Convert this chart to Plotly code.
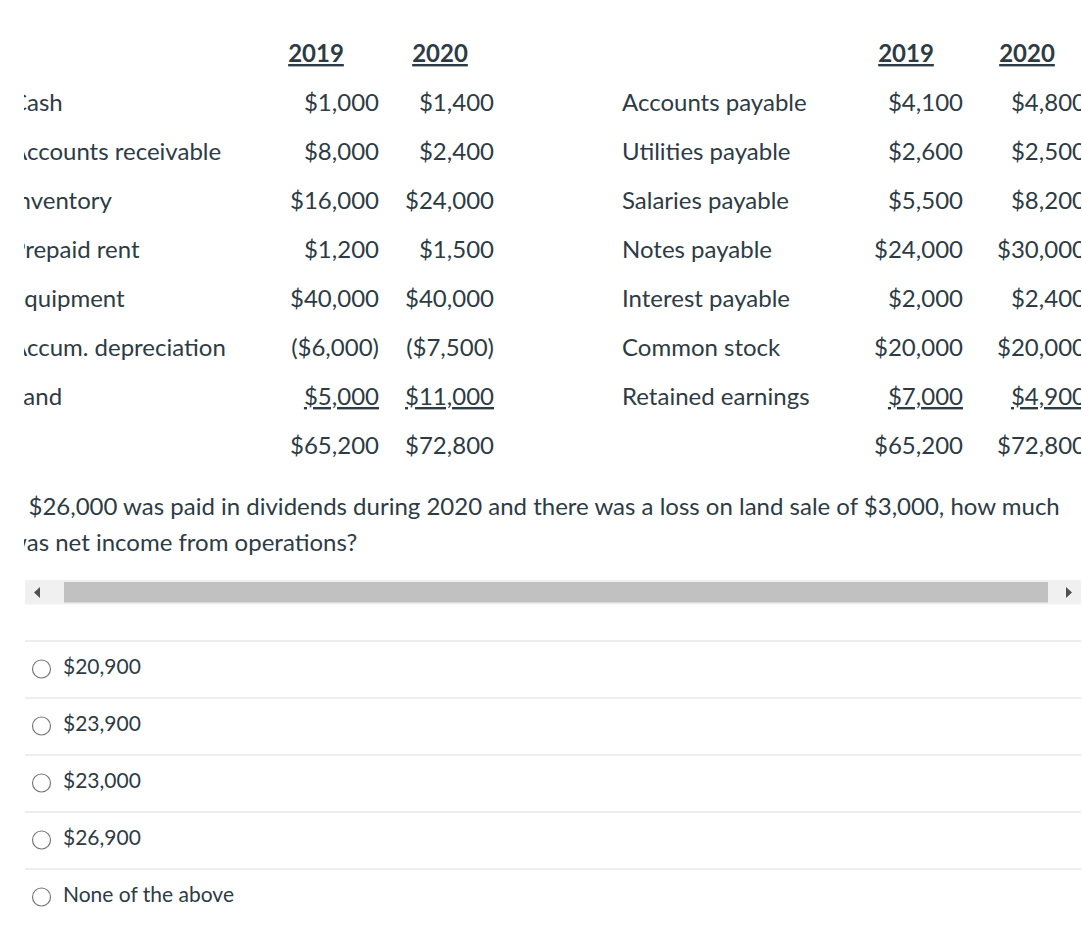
import plotly.graph_objects as go

# ---------------- data ----------------
years = ["2019", "2020"]
asset_labels = ["Cash", "Accounts receivable", "Inventory", "Prepaid rent",
                "Equipment", "Accum. depreciation", "Land"]
assets_2019 = [1000, 8000, 16000, 1200, 40000, -6000, 5000]
assets_2020 = [1400, 2400, 24000, 1500, 40000, -7500, 11000]
liab_labels = ["Accounts payable", "Utilities payable", "Salaries payable",
               "Notes payable", "Interest payable", "Common stock",
               "Retained earnings"]
liab_2019 = [4100, 2600, 5500, 24000, 2000, 20000, 7000]
liab_2020 = [4800, 2500, 8200, 30000, 2400, 20000, 4900]
total_2019 = 65200
total_2020 = 72800
question_lines = [
    "If $26,000 was paid in dividends during 2020 and there was a loss on land sale of $3,000, how much",
    "was net income from operations?",
]
choices = ["$20,900", "$23,900", "$23,000", "$26,900", "None of the above"]

# ---------------- style ----------------
W, H = 1082, 929
CLIP_L, CLIP_R = 24, 1081
TXT = "#2D3B45"
FONT = "Lato, 'Open Sans', sans-serif"
TABLE_SIZE = 24
Q_SIZE = 24
CH_SIZE = 21

ROW_Y0, ROW_STEP = 105, 49
HEAD_Y = 56
LABEL_X_L, COL1_L, COL2_L = 11, 379, 494
LABEL_X_R, COL1_R, COL2_R = 622, 963, 1086
HEAD_L = [316, 440]
HEAD_R = [906, 1027]


def money(v):
    s = "${:,.0f}".format(abs(v))
    return "(" + s + ")" if v < 0 else s


fig = go.Figure()


def add_text(xs, ys, texts, pos, size, weight="normal", under=False):
    fig.add_trace(go.Scatter(
        x=xs, y=ys, text=texts, mode="text", textposition=pos,
        textfont=dict(family=FONT, size=size, color=TXT, weight=weight,
                      lineposition="under" if under else "none"),
        cliponaxis=True, hoverinfo="skip", showlegend=False))


rows = list(range(len(asset_labels)))
row_y = [ROW_Y0 + ROW_STEP * i for i in rows]
total_y = ROW_Y0 + ROW_STEP * len(asset_labels)
last = len(asset_labels) - 1

# headers
add_text(HEAD_L + HEAD_R, [HEAD_Y] * 4, years + years, "middle center",
         TABLE_SIZE, weight="bold", under=True)

# left table (assets)
add_text([LABEL_X_L] * len(rows), row_y, asset_labels, "middle right", TABLE_SIZE)
for col_x, vals in ((COL1_L, assets_2019), (COL2_L, assets_2020)):
    add_text([col_x] * last, row_y[:last], [money(v) for v in vals[:last]],
             "middle left", TABLE_SIZE)
    add_text([col_x], [row_y[last]], [money(vals[last])], "middle left",
             TABLE_SIZE, under=True)
add_text([COL1_L, COL2_L], [total_y] * 2, [money(total_2019), money(total_2020)],
         "middle left", TABLE_SIZE)

# right table (liabilities & equity)
add_text([LABEL_X_R] * len(rows), row_y, liab_labels, "middle right", TABLE_SIZE)
for col_x, vals in ((COL1_R, liab_2019), (COL2_R, liab_2020)):
    add_text([col_x] * last, row_y[:last], [money(v) for v in vals[:last]],
             "middle left", TABLE_SIZE)
    add_text([col_x], [row_y[last]], [money(vals[last])], "middle left",
             TABLE_SIZE, under=True)
add_text([COL1_R, COL2_R], [total_y] * 2, [money(total_2019), money(total_2020)],
         "middle left", TABLE_SIZE)

# question
Q_Y0, Q_STEP = 509, 36
add_text([8] * len(question_lines),
         [Q_Y0 + Q_STEP * i for i in range(len(question_lines))],
         question_lines, "middle right", Q_SIZE)

# answer choices
CH_Y0, CH_STEP = 669, 57
ch_y = [CH_Y0 + CH_STEP * i for i in range(len(choices))]
add_text([63] * len(choices), ch_y, choices, "middle right", CH_SIZE)

shapes = []
# separators above each choice and radio buttons
for y in ch_y:
    yl = y - 28
    shapes.append(dict(type="line", xref="x", yref="y", x0=25, x1=1082,
                       y0=yl, y1=yl, line=dict(color="#DDDDDD", width=1)))
    shapes.append(dict(type="circle", xref="x", yref="y", x0=32.5, x1=50.5,
                       y0=y - 9, y1=y + 9,
                       line=dict(color="#777777", width=1.2),
                       fillcolor="white"))

# scrollbar
shapes.append(dict(type="rect", xref="x", yref="y", x0=25, x1=1082, y0=580,
                   y1=604.5, fillcolor="#F0F0F0", line=dict(width=0)))
shapes.append(dict(type="rect", xref="x", yref="y", x0=64, x1=1048, y0=582,
                   y1=602.5, fillcolor="#C1C1C1", line=dict(width=0)))
shapes.append(dict(type="path", xref="x", yref="y",
                   path="M 34 592.5 L 40 587 L 40 598 Z",
                   fillcolor="#505050", line=dict(width=0)))
shapes.append(dict(type="path", xref="x", yref="y",
                   path="M 1072 592.5 L 1066 587 L 1066 598 Z",
                   fillcolor="#505050", line=dict(width=0)))

fig.update_layout(
    width=W, height=H,
    margin=dict(l=0, r=0, t=0, b=0, pad=0),
    paper_bgcolor="white", plot_bgcolor="white",
    xaxis=dict(range=[CLIP_L, CLIP_R], domain=[CLIP_L / W, CLIP_R / W],
               visible=False, fixedrange=True),
    yaxis=dict(range=[H, 0], domain=[0, 1], visible=False, fixedrange=True),
    shapes=shapes,
    font=dict(family=FONT, color=TXT),
)

fig.write_html("out.html", config={"displayModeBar": False},
               post_script="document.body.style.margin='0';")
